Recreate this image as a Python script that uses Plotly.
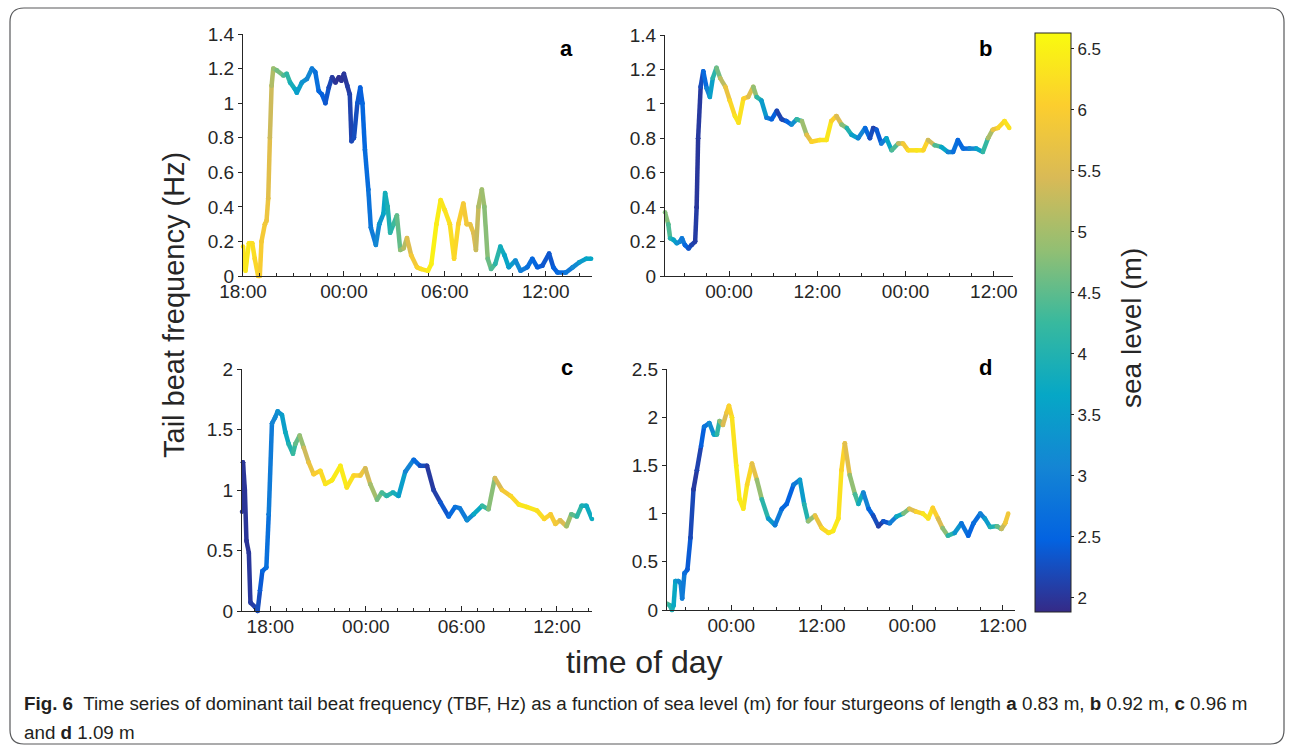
import plotly.graph_objects as go
from plotly.colors import sample_colorscale

W, H = 1293, 746

# ---------------- data (hours since 00:00 of day 1) ----------------
a_t = [18.0, 18.15, 18.35, 18.55, 18.7, 18.9, 19.0, 19.1, 19.3, 19.4, 19.5, 19.6, 19.7, 19.8, 20.0, 20.4,
       20.6, 20.8, 21.1, 21.2, 21.5, 21.8, 22.1, 22.3, 22.5, 22.7, 22.9, 23.1, 23.3, 23.5, 23.7, 23.85,
       24.0, 24.2, 24.35, 24.45, 24.6, 24.8, 24.97, 25.1, 25.25, 25.45, 25.6, 25.9, 26.1, 26.35, 26.45,
       26.6, 26.75, 26.95, 27.15, 27.35, 27.55, 27.75, 28.0, 28.35, 28.6, 29.0, 29.2, 29.5, 29.75, 30.0,
       30.3, 30.55, 30.8, 31.1, 31.3, 31.5, 31.7, 31.85, 32.0, 32.2, 32.35, 32.55, 32.75, 33.0, 33.3,
       33.55, 33.8, 34.2, 34.5, 34.9, 35.2, 35.5, 35.8, 36.2, 36.45, 36.7, 37.2, 37.6, 38.0, 38.4, 38.7]
a_tbf = [0.17, 0.03, 0.19, 0.19, 0.1, 0.0, 0.0, 0.2, 0.3, 0.32, 0.45, 0.8, 1.1, 1.2, 1.19, 1.16,
         1.17, 1.12, 1.08, 1.06, 1.12, 1.14, 1.2, 1.18, 1.07, 1.05, 1.0, 1.09, 1.15, 1.12, 1.15, 1.13,
         1.17, 1.1, 1.05, 0.78, 0.8, 1.0, 1.09, 1.0, 0.73, 0.5, 0.28, 0.18, 0.3, 0.36, 0.48,
         0.4, 0.25, 0.3, 0.35, 0.15, 0.16, 0.22, 0.12, 0.05, 0.04, 0.03, 0.07, 0.3, 0.44, 0.38,
         0.3, 0.1, 0.3, 0.42, 0.3, 0.3, 0.25, 0.15, 0.4, 0.5, 0.4, 0.1, 0.04, 0.07, 0.17,
         0.12, 0.05, 0.09, 0.03, 0.05, 0.1, 0.05, 0.06, 0.13, 0.05, 0.02, 0.02, 0.05, 0.08, 0.1, 0.1]
a_sea = [6.3, 6.35, 6.4, 6.3, 6.2, 6.1, 6.0, 5.95, 5.9, 5.85, 5.7, 5.5, 5.2, 5.0, 4.8, 4.5,
         4.3, 4.0, 3.7, 3.6, 3.4, 3.2, 3.0, 2.8, 2.6, 2.5, 2.4, 2.3, 2.1, 2.0, 1.95, 1.95,
         2.0, 2.05, 2.1, 2.2, 2.2, 2.3, 2.4, 2.5, 2.6, 2.7, 2.8, 3.0, 3.2, 3.5, 3.8,
         3.9, 4.0, 4.2, 4.4, 4.7, 5.0, 5.3, 5.8, 6.0, 6.2, 6.4, 6.5, 6.5, 6.4, 6.3,
         6.3, 6.2, 6.1, 5.9, 5.9, 5.8, 5.6, 5.4, 5.2, 5.0, 4.9, 4.7, 4.5, 4.3, 3.9,
         3.7, 3.6, 3.3, 3.0, 2.8, 2.6, 2.5, 2.4, 2.3, 2.4, 2.5, 2.7, 3.0, 3.3, 3.6, 3.7]

b_t = [15.3, 15.75, 16.0, 16.45, 16.9, 17.35, 17.6, 18.0, 18.5, 18.9, 19.4, 19.6, 19.8, 20.15, 20.5,
       20.97, 21.4, 21.8, 22.3, 22.8, 23.5, 24.1, 24.8, 25.3, 25.95, 26.6, 27.3, 27.75, 28.4, 29.1,
       29.8, 30.5, 31.15, 31.8, 32.5, 33.2, 33.9, 34.55, 35.2, 36.35, 37.25, 37.9, 38.6, 39.3, 40.0,
       40.65, 41.55, 42.5, 43.15, 43.6, 44.05, 44.7, 45.4, 46.1, 47.0, 47.65, 48.35, 49.5, 50.4,
       51.05, 51.95, 52.85, 53.75, 54.45, 55.1, 55.8, 56.7, 57.6, 58.5, 59.2, 59.85, 60.55, 61.45, 62.1]
b_tbf = [0.37, 0.3, 0.22, 0.21, 0.19, 0.2, 0.22, 0.18, 0.16, 0.18, 0.2, 0.4, 0.8, 1.1, 1.19,
         1.09, 1.04, 1.15, 1.21, 1.15, 1.1, 1.02, 0.93, 0.89, 1.03, 1.04, 1.1, 1.04, 1.02, 0.92,
         0.91, 0.96, 0.91, 0.9, 0.88, 0.91, 0.9, 0.82, 0.78, 0.79, 0.79, 0.9, 0.93, 0.88, 0.86,
         0.82, 0.8, 0.86, 0.8, 0.86, 0.85, 0.77, 0.8, 0.73, 0.77, 0.77, 0.73, 0.73, 0.73,
         0.79, 0.76, 0.75, 0.72, 0.72, 0.79, 0.74, 0.74, 0.74, 0.72, 0.8, 0.85, 0.86, 0.9, 0.86]
b_sea = [4.9, 4.6, 4.2, 3.8, 3.4, 3.2, 3.0, 2.7, 2.4, 2.2, 2.1, 2.05, 2.0, 2.1, 2.4,
         2.8, 3.3, 3.8, 4.4, 4.9, 5.5, 6.0, 6.3, 6.4, 6.2, 5.9, 5.2, 4.5, 3.8, 3.1,
         2.7, 2.2, 2.1, 2.3, 2.7, 3.8, 4.6, 5.3, 6.0, 6.2, 6.4, 6.3, 5.8, 5.2, 4.3,
         3.7, 3.3, 2.8, 2.4, 2.1, 2.2, 2.6, 3.3, 4.0, 4.8, 5.7, 6.1, 6.4, 6.3,
         5.9, 4.8, 4.0, 3.3, 2.8, 2.6, 2.5, 2.8, 3.4, 3.8, 4.6, 5.5, 6.0, 6.3, 6.3]

c_t = [16.22, 16.28, 16.4, 16.5, 16.65, 16.75, 17.06, 17.2, 17.35, 17.5, 17.75, 17.9, 18.1, 18.3,
       18.46, 18.73, 18.94, 19.15, 19.42, 19.57, 19.84, 20.1, 20.4, 20.72, 21.14, 21.45, 21.87, 22.4,
       22.8, 23.23, 23.65, 23.96, 24.27, 24.7, 25.0, 25.3, 25.7, 26.05, 26.47, 27.0, 27.4, 27.84,
       28.25, 28.67, 29.2, 29.6, 29.9, 30.35, 30.77, 31.3, 31.7, 32.1, 32.55, 33.1, 33.6, 34.1,
       34.75, 35.2, 35.6, 35.9, 36.2, 36.6, 36.9, 37.25, 37.55, 37.85, 38.2]
c_tbf = [0.82, 1.23, 1.0, 0.58, 0.48, 0.07, 0.03, 0.0, 0.17, 0.33, 0.36, 0.8, 1.55, 1.6,
         1.65, 1.62, 1.48, 1.38, 1.3, 1.38, 1.45, 1.35, 1.23, 1.13, 1.16, 1.05, 1.08, 1.2,
         1.02, 1.12, 1.12, 1.18, 1.05, 0.92, 0.98, 0.95, 0.98, 0.95, 1.15, 1.25, 1.2, 1.2,
         1.0, 0.9, 0.78, 0.86, 0.85, 0.75, 0.8, 0.87, 0.84, 1.1, 1.0, 0.95, 0.88, 0.86,
         0.83, 0.76, 0.8, 0.72, 0.75, 0.7, 0.8, 0.78, 0.87, 0.87, 0.76]
c_sea = [2.0, 2.0, 2.0, 2.0, 2.0, 2.05, 2.1, 2.2, 2.3, 2.5, 2.6, 2.8, 3.0, 3.1,
         3.2, 3.4, 3.6, 3.9, 4.1, 4.4, 4.7, 5.1, 5.6, 5.9, 6.1, 6.3, 6.4, 6.45,
         6.4, 6.2, 6.0, 5.6, 5.2, 4.8, 4.5, 4.2, 4.0, 3.7, 3.3, 2.8, 2.4, 2.1,
         2.0, 2.2, 2.5, 2.7, 2.8, 3.0, 3.4, 4.0, 4.5, 5.1, 5.8, 6.0, 6.3, 6.4,
         6.3, 6.2, 6.0, 5.9, 5.8, 5.2, 4.7, 4.3, 4.0, 3.8, 3.7]

d_t = [15.4, 15.85, 16.15, 16.37, 16.6, 17.0, 17.3, 17.5, 17.8, 18.2, 18.6, 19.0, 19.45, 20.0, 20.4,
       21.1, 21.7, 22.1, 22.45, 22.9, 23.4, 23.7, 24.1, 24.66, 25.1, 25.6, 26.1, 26.75, 27.4, 28.05,
       28.9, 29.8, 30.7, 31.35, 32.25, 33.1, 33.66, 34.2, 35.1, 36.0, 36.9, 37.5, 38.2, 38.6, 39.05,
       39.7, 40.4, 40.85, 41.5, 42.2, 42.8, 43.5, 44.15, 45.0, 45.9, 46.8, 47.6, 48.5, 49.4, 50.1,
       50.7, 51.4, 52.0, 52.7, 53.6, 54.5, 55.4, 56.1, 57.0, 57.6, 58.3, 59.2, 59.8, 60.3, 60.7]
d_tbf = [0.07, 0.05, 0.0, 0.05, 0.3, 0.3, 0.28, 0.12, 0.38, 0.42, 0.75, 1.25, 1.45, 1.7, 1.9,
         1.94, 1.82, 1.82, 1.96, 1.92, 2.05, 2.12, 2.0, 1.5, 1.15, 1.05, 1.3, 1.52, 1.35, 1.15,
         0.95, 0.88, 1.05, 1.1, 1.3, 1.35, 1.1, 0.92, 0.98, 0.85, 0.8, 0.82, 0.95, 1.45, 1.73,
         1.4, 1.2, 1.1, 1.22, 1.05, 0.98, 0.87, 0.92, 0.9, 0.97, 1.0, 1.05, 1.02, 1.0, 0.95,
         1.06, 0.95, 0.85, 0.77, 0.8, 0.9, 0.77, 0.9, 1.0, 0.95, 0.86, 0.87, 0.84, 0.9, 1.0]
d_sea = [4.6, 4.2, 4.0, 3.8, 3.6, 3.3, 3.1, 3.0, 2.8, 2.5, 2.3, 2.1, 2.0, 2.3, 2.6,
         3.0, 3.4, 3.8, 4.5, 5.2, 5.8, 6.0, 6.2, 6.4, 6.5, 6.4, 6.3, 6.0, 5.3, 4.5,
         3.7, 3.1, 2.7, 2.4, 2.6, 3.2, 3.7, 4.3, 5.5, 6.0, 6.3, 6.4, 6.4, 6.2, 6.0,
         5.2, 4.5, 4.2, 3.4, 2.7, 2.4, 2.1, 2.1, 2.6, 3.3, 4.2, 5.2, 5.9, 6.3, 6.4,
         6.2, 5.9, 5.1, 4.5, 3.7, 3.0, 2.5, 2.5, 2.8, 3.2, 3.7, 4.2, 4.9, 5.7, 6.0]

panel_labels = ["a", "b", "c", "d"]
time_ticks_ab = [18, 24, 30, 36]
time_labels_a = ["18:00", "00:00", "06:00", "12:00"]
time_ticks_bd = [24, 36, 48, 60]
time_labels_bd = ["00:00", "12:00", "00:00", "12:00"]
yt_a = [0, 0.2, 0.4, 0.6, 0.8, 1.0, 1.2, 1.4]
yl_a = ["0", "0.2", "0.4", "0.6", "0.8", "1", "1.2", "1.4"]
yt_c = [0, 0.5, 1.0, 1.5, 2.0]
yl_c = ["0", "0.5", "1", "1.5", "2"]
yt_d = [0, 0.5, 1.0, 1.5, 2.0, 2.5]
yl_d = ["0", "0.5", "1", "1.5", "2", "2.5"]
cbar_ticks = [2, 2.5, 3, 3.5, 4, 4.5, 5, 5.5, 6, 6.5]
cbar_labels = ["2", "2.5", "3", "3.5", "4", "4.5", "5", "5.5", "6", "6.5"]

CMIN, CMAX = 1.885, 6.63
parula = [[0.0, "#352a87"], [0.125, "#0363e1"], [0.25, "#1485d4"], [0.375, "#06a7c6"],
          [0.5, "#38b99e"], [0.625, "#92bf73"], [0.75, "#d9ba56"], [0.875, "#fcce2e"],
          [1.0, "#f9fb0e"]]

FONT = "Liberation Sans, Arial, Helvetica, sans-serif"
TXT = "#262626"

fig = go.Figure()

# panel geometry in pixels: (x0, x1, ytop, ybottom)
boxes = {
    1: (243, 592, 34, 276),
    2: (665, 1013, 35, 276),
    3: (242, 592, 369, 611),
    4: (667, 1015, 369, 610),
}
ranges_x = {1: [18.0, 38.75], 2: [15.3, 62.6], 3: [16.22, 38.2], 4: [15.49, 61.6]}
ranges_y = {1: [0, 1.4], 2: [0, 1.4], 3: [0, 2.0], 4: [0, 2.5]}
xt = {1: (time_ticks_ab, time_labels_a), 2: (time_ticks_bd, time_labels_bd),
      3: (time_ticks_ab, time_labels_a), 4: (time_ticks_bd, time_labels_bd)}
yt = {1: (yt_a, yl_a), 2: (yt_a, yl_a), 3: (yt_c, yl_c), 4: (yt_d, yl_d)}
minor_dt = {1: 1, 2: 3, 3: 1, 4: 3}
series = {1: (a_t, a_tbf, a_sea), 2: (b_t, b_tbf, b_sea), 3: (c_t, c_tbf, c_sea), 4: (d_t, d_tbf, d_sea)}

layout_axes = {}
for k in range(1, 5):
    x0, x1, yt0, yb0 = boxes[k]
    xa = "xaxis" if k == 1 else f"xaxis{k}"
    ya = "yaxis" if k == 1 else f"yaxis{k}"
    layout_axes[xa] = dict(
        domain=[x0 / W, x1 / W], range=ranges_x[k], anchor="y" if k == 1 else f"y{k}",
        tickvals=xt[k][0], ticktext=xt[k][1], ticks="inside", ticklen=5, tickcolor=TXT,
        minor=dict(dtick=minor_dt[k], tick0=0, ticks="inside", ticklen=3, tickcolor=TXT),
        showline=True, linecolor=TXT, linewidth=1, showgrid=False, zeroline=False,
        tickfont=dict(family=FONT, size=19, color=TXT), fixedrange=True,
        ticklabelstandoff=-2, automargin=False,
    )
    layout_axes[ya] = dict(
        domain=[1 - yb0 / H, 1 - yt0 / H], range=ranges_y[k], anchor="x" if k == 1 else f"x{k}",
        tickvals=yt[k][0], ticktext=yt[k][1], ticks="outside", ticklen=4, tickcolor=TXT,
        showline=True, linecolor=TXT, linewidth=1, showgrid=False, zeroline=False,
        tickfont=dict(family=FONT, size=19, color=TXT), fixedrange=True, automargin=False,
    )

    t, v, s = series[k]
    xr = "x" if k == 1 else f"x{k}"
    yr = "y" if k == 1 else f"y{k}"
    for i in range(len(t) - 1):
        sm = 0.5 * (s[i] + s[i + 1])
        col = sample_colorscale(parula, [(sm - CMIN) / (CMAX - CMIN)])[0]
        fig.add_trace(go.Scatter(
            x=[t[i], t[i + 1]], y=[v[i], v[i + 1]], mode="lines+markers",
            line=dict(color=col, width=4.5), marker=dict(color=col, size=4.5),
            xaxis=xr, yaxis=yr, showlegend=False, hoverinfo="skip", cliponaxis=False,
        ))

# colour bar carrier
fig.add_trace(go.Scatter(
    x=[20, 20], y=[0.5, 0.5], mode="markers", xaxis="x", yaxis="y", showlegend=False,
    hoverinfo="skip",
    marker=dict(size=0.1, opacity=0, color=[CMIN, CMAX], cmin=CMIN, cmax=CMAX,
                colorscale=parula, showscale=True,
                colorbar=dict(
                    x=1035 / W, xanchor="left", y=1 - 33 / H, yanchor="top",
                    len=(612 - 33) / H, lenmode="fraction", thickness=36,
                    thicknessmode="pixels", outlinewidth=1, outlinecolor=TXT,
                    tickvals=cbar_ticks, ticktext=cbar_labels, ticks="outside", ticklen=3,
                    tickcolor=TXT, tickfont=dict(family=FONT, size=17, color=TXT),
                    xpad=0, ypad=0,
                )),
))

annotations = []
label_pos = [(566, 48), (985, 48), (567, 367), (985, 367)]
for lab, (px_, py_) in zip(panel_labels, label_pos):
    annotations.append(dict(text=f"<b>{lab}</b>", x=px_ / W, y=1 - py_ / H, xref="paper", yref="paper",
                            showarrow=False, font=dict(family=FONT, size=22, color="black"),
                            xanchor="center", yanchor="middle"))
annotations.append(dict(text="Tail beat frequency (Hz)", x=174 / W, y=1 - 305 / H, xref="paper",
                        yref="paper", showarrow=False, textangle=-90,
                        font=dict(family=FONT, size=29, color=TXT), xanchor="center", yanchor="middle"))
annotations.append(dict(text="sea level (m)", x=1131 / W, y=1 - 328 / H, xref="paper",
                        yref="paper", showarrow=False, textangle=-90,
                        font=dict(family=FONT, size=28, color=TXT), xanchor="center", yanchor="middle"))
annotations.append(dict(text="time of day", x=644 / W, y=1 - 662 / H, xref="paper", yref="paper",
                        showarrow=False, font=dict(family=FONT, size=32, color=TXT),
                        xanchor="center", yanchor="middle"))
CAP = "Liberation Sans, Arial, sans-serif"
annotations.append(dict(
    text="<b>Fig. 6</b>  Time series of dominant tail beat frequency (TBF, Hz) as a function of sea level (m) "
         "for four sturgeons of length <b>a</b> 0.83 m, <b>b</b> 0.92 m, <b>c</b> 0.96 m",
    x=22 / W, y=1 - 703 / H, xref="paper", yref="paper", showarrow=False, align="left",
    font=dict(family=CAP, size=18.8, color="#231f20"), xanchor="left", yanchor="middle"))
annotations.append(dict(
    text="and <b>d</b> 1.09 m", x=22 / W, y=1 - 732 / H, xref="paper", yref="paper", showarrow=False,
    font=dict(family=CAP, size=18.8, color="#231f20"), xanchor="left", yanchor="middle"))

# rounded frame around the figure
r = 14
x0f, x1f, y0f, y1f = 10, 1284, 8, 744
def px(x):
    return x / W
def py(y):
    return 1 - y / H
path = (f"M {px(x0f)},{py(y0f + r)} Q {px(x0f)},{py(y0f)} {px(x0f + r)},{py(y0f)} "
        f"L {px(x1f - r)},{py(y0f)} Q {px(x1f)},{py(y0f)} {px(x1f)},{py(y0f + r)} "
        f"L {px(x1f)},{py(y1f - r)} Q {px(x1f)},{py(y1f)} {px(x1f - r)},{py(y1f)} "
        f"L {px(x0f + r)},{py(y1f)} Q {px(x0f)},{py(y1f)} {px(x0f)},{py(y1f - r)} Z")
shapes = [dict(type="path", path=path, xref="paper", yref="paper",
               line=dict(color="#58595b", width=1.2), fillcolor="rgba(0,0,0,0)", layer="below")]

fig.update_layout(
    width=W, height=H, autosize=False,
    margin=dict(l=0, r=0, t=0, b=0, pad=0, autoexpand=False),
    paper_bgcolor="white", plot_bgcolor="white", showlegend=False,
    annotations=annotations, shapes=shapes, **layout_axes,
)

fig.write_html("out.html", config={"displayModeBar": False})
